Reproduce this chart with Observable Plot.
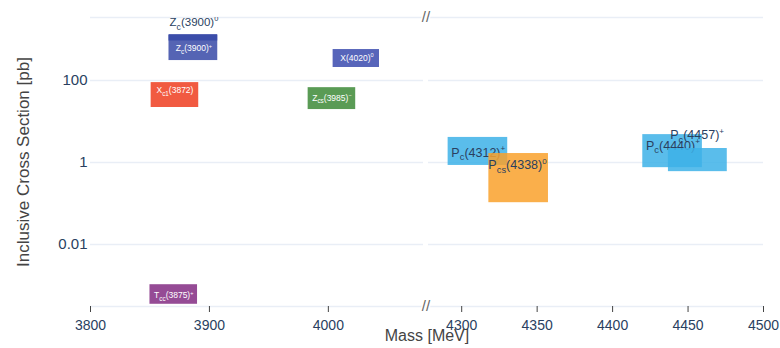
<!DOCTYPE html>
<html><head><meta charset="utf-8">
<script src="https://cdn.jsdelivr.net/npm/d3@7"></script>
<script src="https://cdn.jsdelivr.net/npm/@observablehq/plot@0.6"></script>
<style>html,body{margin:0;padding:0;background:#fff}</style>
</head><body><div id="chart"></div>
<script>
// ---- data ----
const states     = ["Zc(3900)0","Zc(3900)+","X(4020)0","Xc1(3872)","Zcs(3985)","Tcc(3875)+","Pc(4312)+","Pcs(4338)0","Pc(4440)+","Pc(4457)+"];
const labelBase  = ["Z","Z","X","X","Z","T","P","P","P","P"];
const labelSub   = ["c","c","","c1","cs","cc","c","cs","c","c"];
const labelMass  = ["(3900)","(3900)","(4020)","(3872)","(3985)","(3875)","(4312)","(4338)","(4440)","(4457)"];
const labelSup   = ["0","+","0","","\u2212","+","+","0","+","+"];
const massLo     = [3866, 3866, 4004, 3851, 3983, 3850, 4291, 4318, 4420, 4437];
const massHi     = [3907, 3907, 4043, 3891, 4023, 3890, 4330.5, 4357.5, 4459.5, 4476];
const xsecLo     = [919, 307, 208, 22, 19.6, 0.00035, 0.85, 0.105, 0.75, 0.6];
const xsecHi     = [1324, 1253, 570, 89, 67, 0.00105, 4.1, 1.66, 4.8, 2.2];
const labelMassX = [3887, 3887, 4024, 3871, 4003, 3870, 4311, 4337, 4440, 4456];
const labelXsecY = [2600, 600, 345, 57, 38, 0.00057, 1.75, 0.85, 2.6, 4.6];
const insideLabel= [false, true, true, true, true, true, false, false, false, false];
const xTicks     = [3800, 3900, 4000, 4300, 4350, 4400, 4450, 4500];
const yTicks     = [0.01, 1, 100];
const yTickLabels= ["0.01", "1", "100"];
const xPanels    = [[3800, 4080], [4278, 4500]];

// ---- styles ----
const stateColors = ["#3749a7","#3749a7","#3a4aae","#ee3d20","#3d8937","#832b83","#3db2e8","#f9a12b","#3db2e8","#3db2e8"];
const gridColor = "#e9eef6";
const tickColor = "#2a3f5f";

const xDomain = [xPanels[0][0], xPanels[0][1], xPanels[1][0], xPanels[1][1]];
const xRange = [90, 423, 428, 763];
const yDomain = [Math.pow(10, -3.51), Math.pow(10, 3.537)];
const breakX = (xPanels[0][1] + xPanels[1][0]) / 2;

const rows = states.map((s, i) => ({
  state: s, i,
  x1: massLo[i], x2: massHi[i], y1: xsecLo[i], y2: xsecHi[i],
  lx: labelMassX[i], ly: labelXsecY[i],
  label: [labelBase[i], labelSub[i], labelMass[i], labelSup[i]].join("|"),
  inside: insideLabel[i]
}));

const marks = [];
// gridlines, split per panel
xPanels.forEach(p => {
  marks.push(Plot.ruleY(yTicks, {x1: () => p[0], x2: () => p[1], stroke: gridColor, strokeWidth: 1.5}));
});
// top & bottom frame lines
marks.push(Plot.ruleY(yDomain, {x1: () => xPanels[0][0], x2: () => xPanels[1][1], stroke: gridColor, strokeWidth: 1.5}));
// boxes and labels, interleaved in drawing order
rows.forEach(r => {
  marks.push(Plot.rect([r], {x1: "x1", x2: "x2", y1: "y1", y2: "y2", fill: "state", fillOpacity: 0.85}));
  marks.push(Plot.text([r], {
    x: "lx", y: "ly", text: "label",
    fill: r.inside ? "white" : tickColor,
    fontSize: r.inside ? 8.5 : (r.i === 0 ? 11.5 : 12.5),
    clip: true
  }));
});
// axis break marks
marks.push(Plot.text(yDomain, {x: () => breakX, y: d => d, text: () => "//", fontSize: 15, fill: "#666", stroke: "white", strokeWidth: 3, paintOrder: "stroke"}));
// axes
marks.push(Plot.axisX({ticks: xTicks, tickSize: 6, tickPadding: 8, tickFormat: d => String(d), fontSize: 14, stroke: "#444", fill: tickColor, label: null}));
marks.push(Plot.axisY({ticks: yTicks, tickSize: 0, tickPadding: 3, tickFormat: d => yTickLabels[yTicks.indexOf(d)], fontSize: 15, fill: tickColor, label: null}));
// axis titles
marks.push(Plot.text(["Mass [MeV]"], {frameAnchor: "bottom", dy: 34, fontSize: 16, fill: "#444", text: d => d}));
marks.push(Plot.text(["Inclusive Cross Section [pb]"], {frameAnchor: "left", textAnchor: "middle", dx: -67, rotate: -90, fontSize: 17, fill: "#444", text: d => d}));

const chart = Plot.plot({
  width: 780, height: 348,
  marginTop: 17, marginBottom: 42, marginLeft: 90, marginRight: 17,
  x: {type: "linear", domain: xDomain, range: xRange},
  y: {type: "log", domain: yDomain},
  color: {domain: states, range: stateColors},
  style: {fontFamily: "'Liberation Sans', Arial, sans-serif", background: "white", overflow: "visible"},
  marks
});
document.getElementById("chart").appendChild(chart);

// sub/superscript formatting of labels
const NS = "http://www.w3.org/2000/svg";
chart.querySelectorAll("text").forEach(t => {
  const s = t.textContent;
  if (!s.includes("|")) return;
  const [base, sub, mass, sup] = s.split("|");
  const fs = parseFloat(getComputedStyle(t).fontSize) || 10;
  t.textContent = "";
  const add = (txt, dy, size) => {
    const ts = document.createElementNS(NS, "tspan");
    ts.textContent = txt;
    if (dy) ts.setAttribute("dy", dy);
    if (size) ts.setAttribute("font-size", size);
    t.appendChild(ts);
  };
  add(base);
  const subDy = 0.3 * fs;
  if (sub) add(sub, subDy, 0.75 * fs);
  add(mass, sub ? -subDy : 0);
  if (sup) add(sup, -0.45 * fs, 0.65 * fs);
});
</script>
</body></html>
